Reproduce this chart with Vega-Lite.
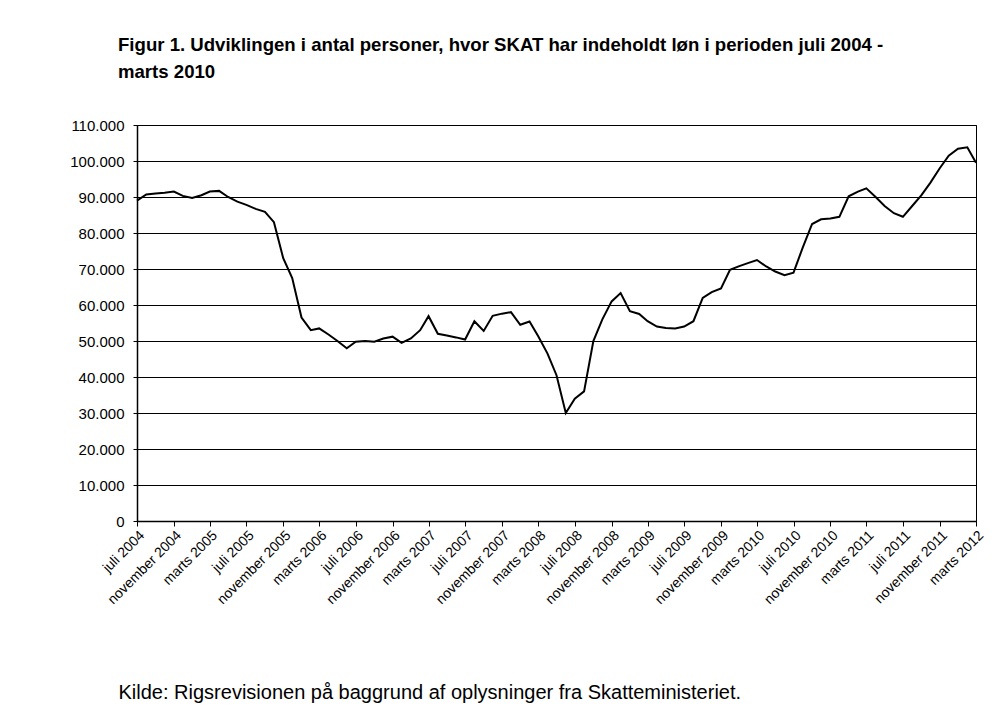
{
  "$schema": "https://vega.github.io/schema/vega-lite/v6.json",
  "width": 839,
  "height": 396,
  "autosize": {"type": "none"},
  "padding": {"left": 137, "top": 125, "right": 28, "bottom": 207},
  "background": "white",
  "title": {
    "text": ["Figur 1. Udviklingen i antal personer, hvor SKAT har indeholdt løn i perioden juli 2004 -", "marts 2010"],
    "anchor": "start",
    "frame": "group",
    "dx": -19,
    "offset": 36,
    "font": "Liberation Sans",
    "fontSize": 18.6,
    "fontWeight": "bold",
    "lineHeight": 27,
    "color": "black"
  },
  "config": {
    "view": {"stroke": "black", "strokeWidth": 1},
    "axis": {"labelFont": "Liberation Sans", "titleFont": "Liberation Sans", "labelColor": "black", "titleColor": "black", "domainColor": "black", "tickColor": "black", "gridColor": "black"}
  },
  "data": {
    "values": [
      {"maaned": "2004-07-01", "personer": 89000},
      {"maaned": "2004-08-01", "personer": 90700},
      {"maaned": "2004-09-01", "personer": 91000},
      {"maaned": "2004-10-01", "personer": 91200},
      {"maaned": "2004-11-01", "personer": 91500},
      {"maaned": "2004-12-01", "personer": 90300},
      {"maaned": "2005-01-01", "personer": 89700},
      {"maaned": "2005-02-01", "personer": 90500},
      {"maaned": "2005-03-01", "personer": 91500},
      {"maaned": "2005-04-01", "personer": 91700},
      {"maaned": "2005-05-01", "personer": 90000},
      {"maaned": "2005-06-01", "personer": 88700},
      {"maaned": "2005-07-01", "personer": 87800},
      {"maaned": "2005-08-01", "personer": 86700},
      {"maaned": "2005-09-01", "personer": 85900},
      {"maaned": "2005-10-01", "personer": 83000},
      {"maaned": "2005-11-01", "personer": 73000},
      {"maaned": "2005-12-01", "personer": 67500},
      {"maaned": "2006-01-01", "personer": 56500},
      {"maaned": "2006-02-01", "personer": 53000},
      {"maaned": "2006-03-01", "personer": 53500},
      {"maaned": "2006-04-01", "personer": 51800},
      {"maaned": "2006-05-01", "personer": 50000},
      {"maaned": "2006-06-01", "personer": 48000},
      {"maaned": "2006-07-01", "personer": 49800},
      {"maaned": "2006-08-01", "personer": 50000},
      {"maaned": "2006-09-01", "personer": 49800},
      {"maaned": "2006-10-01", "personer": 50700},
      {"maaned": "2006-11-01", "personer": 51200},
      {"maaned": "2006-12-01", "personer": 49500},
      {"maaned": "2007-01-01", "personer": 50700},
      {"maaned": "2007-02-01", "personer": 53000},
      {"maaned": "2007-03-01", "personer": 56900},
      {"maaned": "2007-04-01", "personer": 52000},
      {"maaned": "2007-05-01", "personer": 51500},
      {"maaned": "2007-06-01", "personer": 51000},
      {"maaned": "2007-07-01", "personer": 50400},
      {"maaned": "2007-08-01", "personer": 55500},
      {"maaned": "2007-09-01", "personer": 52800},
      {"maaned": "2007-10-01", "personer": 57000},
      {"maaned": "2007-11-01", "personer": 57600},
      {"maaned": "2007-12-01", "personer": 58000},
      {"maaned": "2008-01-01", "personer": 54500},
      {"maaned": "2008-02-01", "personer": 55400},
      {"maaned": "2008-03-01", "personer": 51300},
      {"maaned": "2008-04-01", "personer": 46500},
      {"maaned": "2008-05-01", "personer": 40500},
      {"maaned": "2008-06-01", "personer": 30000},
      {"maaned": "2008-07-01", "personer": 34000},
      {"maaned": "2008-08-01", "personer": 36000},
      {"maaned": "2008-09-01", "personer": 50000},
      {"maaned": "2008-10-01", "personer": 56000},
      {"maaned": "2008-11-01", "personer": 61000},
      {"maaned": "2008-12-01", "personer": 63300},
      {"maaned": "2009-01-01", "personer": 58300},
      {"maaned": "2009-02-01", "personer": 57500},
      {"maaned": "2009-03-01", "personer": 55500},
      {"maaned": "2009-04-01", "personer": 54000},
      {"maaned": "2009-05-01", "personer": 53600},
      {"maaned": "2009-06-01", "personer": 53500},
      {"maaned": "2009-07-01", "personer": 54000},
      {"maaned": "2009-08-01", "personer": 55500},
      {"maaned": "2009-09-01", "personer": 62000},
      {"maaned": "2009-10-01", "personer": 63600},
      {"maaned": "2009-11-01", "personer": 64600},
      {"maaned": "2009-12-01", "personer": 69800},
      {"maaned": "2010-01-01", "personer": 70800},
      {"maaned": "2010-02-01", "personer": 71700},
      {"maaned": "2010-03-01", "personer": 72500},
      {"maaned": "2010-04-01", "personer": 70700},
      {"maaned": "2010-05-01", "personer": 69300},
      {"maaned": "2010-06-01", "personer": 68300},
      {"maaned": "2010-07-01", "personer": 69000},
      {"maaned": "2010-08-01", "personer": 76000},
      {"maaned": "2010-09-01", "personer": 82500},
      {"maaned": "2010-10-01", "personer": 83800},
      {"maaned": "2010-11-01", "personer": 84000},
      {"maaned": "2010-12-01", "personer": 84500},
      {"maaned": "2011-01-01", "personer": 90200},
      {"maaned": "2011-02-01", "personer": 91500},
      {"maaned": "2011-03-01", "personer": 92400},
      {"maaned": "2011-04-01", "personer": 90000},
      {"maaned": "2011-05-01", "personer": 87500},
      {"maaned": "2011-06-01", "personer": 85500},
      {"maaned": "2011-07-01", "personer": 84500},
      {"maaned": "2011-08-01", "personer": 87500},
      {"maaned": "2011-09-01", "personer": 90500},
      {"maaned": "2011-10-01", "personer": 94000},
      {"maaned": "2011-11-01", "personer": 98000},
      {"maaned": "2011-12-01", "personer": 101500},
      {"maaned": "2012-01-01", "personer": 103400},
      {"maaned": "2012-02-01", "personer": 103800},
      {"maaned": "2012-03-01", "personer": 99500}
    ]
  },
  "mark": {"type": "line", "color": "black", "strokeWidth": 2, "interpolate": "linear"},
  "encoding": {
    "x": {
      "field": "maaned",
      "type": "temporal",
      "scale": {"type": "utc", "nice": false, "domain": [{"year": 2004, "month": 7, "date": 1, "utc": true}, {"year": 2012, "month": 3, "date": 1, "utc": true}]},
      "axis": {
        "values": [
          {"year": 2004, "month": 7, "date": 1, "utc": true}, {"year": 2004, "month": 11, "date": 1, "utc": true},
          {"year": 2005, "month": 3, "date": 1, "utc": true}, {"year": 2005, "month": 7, "date": 1, "utc": true}, {"year": 2005, "month": 11, "date": 1, "utc": true},
          {"year": 2006, "month": 3, "date": 1, "utc": true}, {"year": 2006, "month": 7, "date": 1, "utc": true}, {"year": 2006, "month": 11, "date": 1, "utc": true},
          {"year": 2007, "month": 3, "date": 1, "utc": true}, {"year": 2007, "month": 7, "date": 1, "utc": true}, {"year": 2007, "month": 11, "date": 1, "utc": true},
          {"year": 2008, "month": 3, "date": 1, "utc": true}, {"year": 2008, "month": 7, "date": 1, "utc": true}, {"year": 2008, "month": 11, "date": 1, "utc": true},
          {"year": 2009, "month": 3, "date": 1, "utc": true}, {"year": 2009, "month": 7, "date": 1, "utc": true}, {"year": 2009, "month": 11, "date": 1, "utc": true},
          {"year": 2010, "month": 3, "date": 1, "utc": true}, {"year": 2010, "month": 7, "date": 1, "utc": true}, {"year": 2010, "month": 11, "date": 1, "utc": true},
          {"year": 2011, "month": 3, "date": 1, "utc": true}, {"year": 2011, "month": 7, "date": 1, "utc": true}, {"year": 2011, "month": 11, "date": 1, "utc": true},
          {"year": 2012, "month": 3, "date": 1, "utc": true}
        ],
        "labelExpr": "(utcmonth(datum.value) == 6 ? 'juli' : utcmonth(datum.value) == 10 ? 'november' : 'marts') + ' ' + utcyear(datum.value)",
        "labelAngle": -45,
        "labelAlign": "right",
        "labelBaseline": "top",
        "labelFontSize": 14,
        "labelPadding": 2,
        "labelOverlap": false,
        "labelFlush": false,
        "labelBound": false,
        "tickSize": 5,
        "grid": false,
        "domainWidth": 1.5,
        "title": "Kilde:  Rigsrevisionen på baggrund af oplysninger fra Skatteministeriet.",
        "titleFontSize": 20,
        "titleFontWeight": "normal",
        "titleX": -19,
        "titleY": 171,
        "titleAlign": "left",
        "titleBaseline": "middle",
        "titleAnchor": "start"
      }
    },
    "y": {
      "field": "personer",
      "type": "quantitative",
      "scale": {"domain": [0, 110000], "nice": false},
      "axis": {
        "values": [0, 10000, 20000, 30000, 40000, 50000, 60000, 70000, 80000, 90000, 100000, 110000],
        "labelExpr": "replace(format(datum.value, ','), ',', '.')",
        "labelFontSize": 15,
        "labelPadding": 9,
        "tickSize": 4,
        "grid": true,
        "gridWidth": 1,
        "domainWidth": 1.5,
        "title": null
      }
    }
  }
}
